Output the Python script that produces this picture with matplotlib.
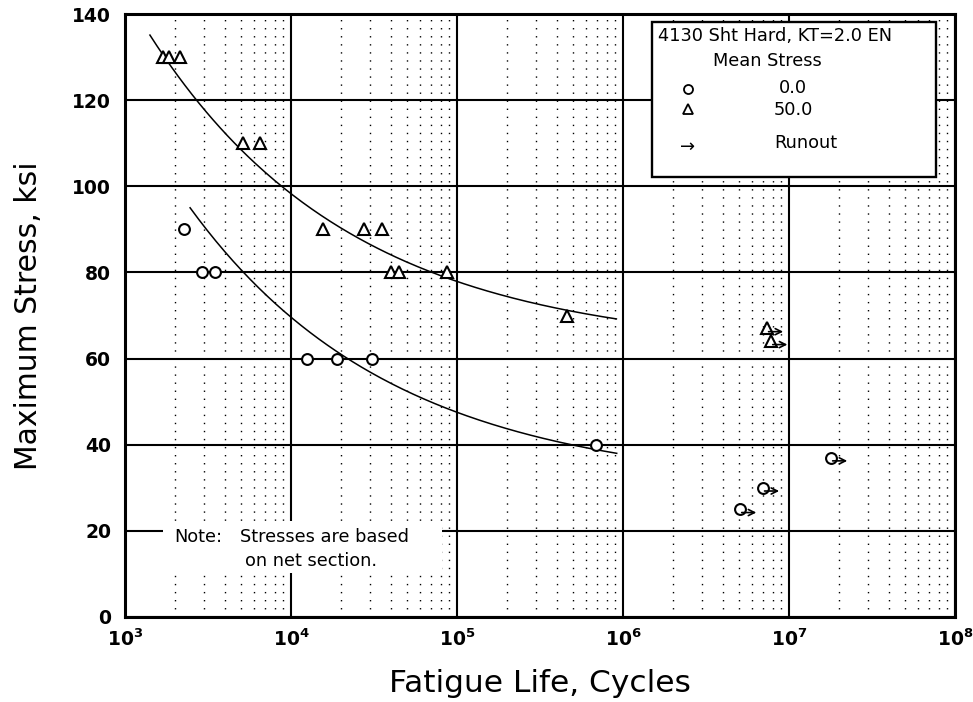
import numpy as np
import matplotlib
matplotlib.use('Agg')
import matplotlib.pyplot as plt
from matplotlib.patches import Rectangle
from matplotlib.ticker import FixedLocator, NullFormatter

plt.rcParams['font.family'] = ['DejaVu Sans']
plt.rcParams['mathtext.fontset'] = 'dejavusans'

# Test results, mean stress 0.0 ksi
cycles_ms0 = [2265, 2910, 3480, 12470, 18900, 30750, 687000]
smax_ms0 = [90, 80, 80, 60, 60, 60, 40]
# runouts, mean stress 0.0 ksi
runout_cycles_ms0 = [5.07e6, 6.96e6, 1.79e7]
runout_smax_ms0 = [25, 30, 37]

# Test results, mean stress 50.0 ksi
cycles_ms50 = [1694, 1842, 2143, 5140, 6500, 15600, 27540, 35300,
               40000, 44700, 87100, 460000]
smax_ms50 = [130, 130, 130, 110, 110, 90, 90, 90, 80, 80, 80, 70]
# runouts, mean stress 50.0 ksi
runout_cycles_ms50 = [7.36e6, 7.8e6]
runout_smax_ms50 = [67, 64]

# Best fit curves: log(Smax - A4) = B0 - B1 * (log N - N0)
fit_ms0 = dict(A4=30.0, B0=1.813, B1=0.354, N0=3.392, nmin=3.392, nmax=5.962)
fit_ms50 = dict(A4=62.0, B0=1.864, B1=0.358, N0=3.15, nmin=3.15, nmax=5.96)

fig = plt.figure(figsize=(9.73, 7.02), dpi=100)
ax = fig.add_axes([0.1285, 0.1211, 0.853, 0.8589])

ax.set_xscale('log')
ax.set_xlim(1e3, 1e8)
ax.set_ylim(0, 140)

# grid: solid major lines, dotted minor verticals
ax.set_yticks(np.arange(0, 141, 20))
ax.set_xticks([1e3, 1e4, 1e5, 1e6, 1e7, 1e8])
ax.set_xticklabels([r'$\mathbf{10^{%d}}$' % e for e in range(3, 9)])
minor = [m * 10.0 ** e for e in range(3, 8) for m in range(2, 10)]
ax.xaxis.set_minor_locator(FixedLocator(minor))
ax.xaxis.set_minor_formatter(NullFormatter())
ax.grid(which='major', color='black', linewidth=1.5)
ax.grid(which='minor', axis='x', color='black', linewidth=1.0,
        linestyle=(0, (1, 4.8)))
ax.set_axisbelow(True)
ax.tick_params(which='both', length=0)
ax.tick_params(axis='y', pad=10, labelsize=13.5)
ax.tick_params(axis='x', pad=8, labelsize=13.5)
for lab in ax.get_yticklabels():
    lab.set_fontweight('bold')
for sp in ax.spines.values():
    sp.set_linewidth(2.2)
    sp.set_zorder(5)

# fitted curves
for f in (fit_ms0, fit_ms50):
    lgn = np.linspace(f['nmin'], f['nmax'], 200)
    s = f['A4'] + 10 ** (f['B0'] - f['B1'] * (lgn - f['N0']))
    ax.plot(10 ** lgn, s, color='black', linewidth=1.1, zorder=3)

mk = dict(linestyle='none', markerfacecolor='white', markeredgecolor='black',
          markeredgewidth=1.5, zorder=4)
ax.plot(cycles_ms0, smax_ms0, marker='o', markersize=7.8, **mk)
ax.plot(runout_cycles_ms0, runout_smax_ms0, marker='o', markersize=7.8, **mk)
ax.plot(cycles_ms50, smax_ms50, marker='^', markersize=8, **mk)
ax.plot(runout_cycles_ms50, runout_smax_ms50, marker='^', markersize=8, **mk)

# runout arrows
for x, y in zip(runout_cycles_ms0 + runout_cycles_ms50,
                runout_smax_ms0 + runout_smax_ms50):
    ax.annotate('', xy=(x * 10 ** 0.098, y - 0.75), xytext=(x * 10 ** 0.01, y - 0.75),
                arrowprops=dict(arrowstyle='->', lw=1.2, color='black',
                                shrinkA=0, shrinkB=0, mutation_scale=11),
                zorder=4)

ax.set_xlabel('Fatigue Life, Cycles', fontsize=22.5, labelpad=14)
ax.set_ylabel('Maximum Stress, ksi', fontsize=21.5)
ax.yaxis.set_label_coords(-0.099, 0.5)


def px(x, y):
    # pixel position (from top left) to figure fraction
    return x / 973.0, 1 - y / 702.0


# note box
x0, y0 = px(163, 573)
x1, y1 = px(442, 521)
fig.patches.append(Rectangle((x0, y0), x1 - x0, y1 - y0, transform=fig.transFigure,
                             facecolor='white', edgecolor='none', zorder=6))
fs = 12.8
fig.text(*px(174, 537), 'Note:', fontsize=fs, va='center', ha='left', zorder=7)
fig.text(*px(240, 537), 'Stresses are based', fontsize=fs, va='center', ha='left', zorder=7)
fig.text(*px(245, 561), 'on net section.', fontsize=fs, va='center', ha='left', zorder=7)

# legend box
x0, y0 = px(652, 177)
x1, y1 = px(936, 22)
fig.patches.append(Rectangle((x0, y0), x1 - x0, y1 - y0, transform=fig.transFigure,
                             facecolor='white', edgecolor='black', linewidth=1.7, zorder=6))
fig.text(*px(658, 36), '4130 Sht Hard, KT=2.0 EN', fontsize=fs, va='center', ha='left', zorder=7)
fig.text(*px(767, 61), 'Mean Stress', fontsize=fs, va='center', ha='center', zorder=7)
fig.text(*px(793, 88), '0.0', fontsize=fs, va='center', ha='center', zorder=7)
fig.text(*px(793, 110), '50.0', fontsize=fs, va='center', ha='center', zorder=7)
fig.text(*px(806, 143), 'Runout', fontsize=fs, va='center', ha='center', zorder=7)
fig.lines.append(plt.Line2D(*zip(px(688, 89)), marker='o', markersize=6.5,
                            markerfacecolor='white', markeredgecolor='black',
                            markeredgewidth=1.3, transform=fig.transFigure, zorder=7))
fig.lines.append(plt.Line2D(*zip(px(688, 109)), marker='^', markersize=6.5,
                            markerfacecolor='white', markeredgecolor='black',
                            markeredgewidth=1.3, transform=fig.transFigure, zorder=7))
fig.text(*px(688, 147), '\u2192', fontsize=13, va='center', ha='center', zorder=7)

fig.savefig('out.png', dpi=100)
